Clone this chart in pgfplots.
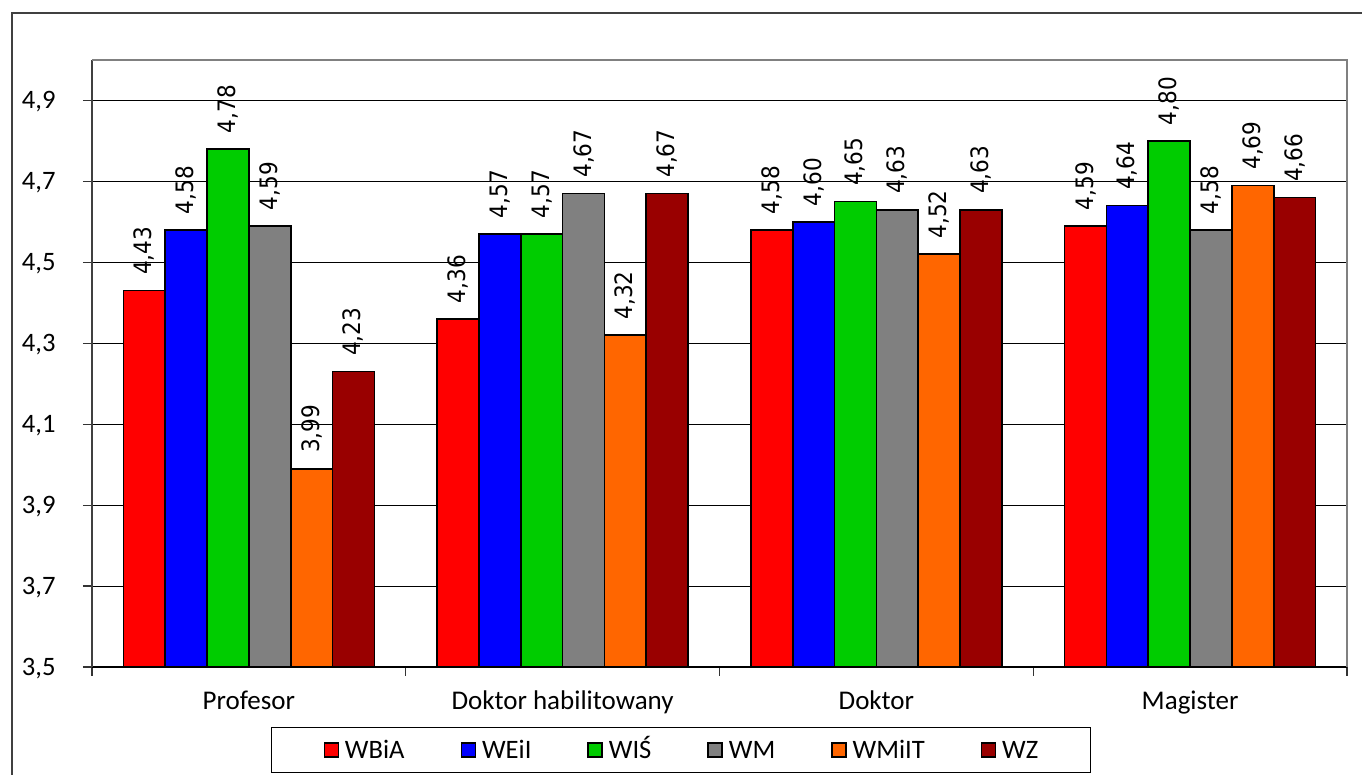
\documentclass[border=0pt]{standalone}
\usepackage{fontspec}
\setmainfont{Carlito}
\newfontfamily\labfont[FakeStretch=0.9]{DejaVu Sans}
\usepackage{pgfplots}
\pgfplotsset{compat=1.18}
\definecolor{cWBiA}{HTML}{FF0000}
\definecolor{cWEiI}{HTML}{0000FF}
\definecolor{cWIS}{HTML}{00CC00}
\definecolor{cWM}{HTML}{808080}
\definecolor{cWMiIT}{HTML}{FF6600}
\definecolor{cWZ}{HTML}{990000}
\begin{document}
\begin{tikzpicture}
\useasboundingbox (0,0) rectangle (681pt,387.5pt);
\draw[line width=0.75pt, color=black!75] (6pt,-20pt) -- (6pt,381pt) -- (720pt,381pt);
\begin{axis}[
  name=ax,
  at={(46pt,54pt)}, anchor=south west,
  width=627.5pt, height=303.5pt, scale only axis,
  xmin=-0.5, xmax=3.5, ymin=3.5, ymax=5.0,
  axis lines*=left,
  x axis line style={black, line width=0.8pt},
  y axis line style={black!75, line width=0.75pt},
  ybar, bar width=0.1333,
  ytick={3.5,3.7,3.9,4.1,4.3,4.5,4.7,4.9},
  ymajorgrids, grid style={black, line width=0.5pt},
  tick align=outside, major tick length=4.5pt,
  tick style={black!80, line width=0.6pt},
  yticklabel style={anchor=base east, inner sep=0pt, xshift=-13.5pt, yshift=-4.2pt,
    font=\fontsize{13.3}{15}\selectfont,
    /pgf/number format/.cd, fixed, fixed zerofill, precision=1, use comma, assume math mode=true},
  xtick={-0.5,0.5,1.5,2.5,3.5},
  xticklabels={,,,,},
  extra x ticks={0,1,2,3},
  extra x tick labels={Profesor, Doktor habilitowany, Doktor, Magister},
  extra x tick style={major tick length=0pt, xticklabel style={anchor=base, inner sep=0pt, yshift=-21.5pt, font=\fontsize{13.5}{15}\selectfont}},
  nodes near coords,
  every node near coord/.append style={rotate=90, anchor=west, inner xsep=7.5pt, inner ysep=0pt, black,
    font=\labfont\fontsize{12}{14}\selectfont,
    /pgf/number format/.cd, fixed, fixed zerofill, precision=2, use comma, assume math mode=true},
  legend columns=6,
  legend cell align=left,
  legend image code/.code={\draw[#1, line width=0.7pt] (0pt,-3.5pt) rectangle (7pt,3.5pt);},
  legend style={at={(0.4693,-0.0988)}, anchor=north, draw=black, line width=0.6pt,
    inner xsep=26pt, inner ysep=7pt, font=\fontsize{13.3}{15}\selectfont,
    nodes={inner sep=0pt, text height=8.6pt, text depth=0pt},
    /tikz/every odd column/.append style={column sep=3pt},
    /tikz/every even column/.append style={column sep=28pt}},
]
\addplot[fill=cWBiA, draw=black, line width=0.8pt, bar shift=-0.3333] coordinates {(0,4.43) (1,4.36) (2,4.58) (3,4.59)};
\addplot[fill=cWEiI, draw=black, line width=0.8pt, bar shift=-0.2] coordinates {(0,4.58) (1,4.57) (2,4.60) (3,4.64)};
\addplot[fill=cWIS, draw=black, line width=0.8pt, bar shift=-0.0667] coordinates {(0,4.78) (1,4.57) (2,4.65) (3,4.80)};
\addplot[fill=cWM, draw=black, line width=0.8pt, bar shift=0.0667] coordinates {(0,4.59) (1,4.67) (2,4.63) (3,4.58)};
\addplot[fill=cWMiIT, draw=black, line width=0.8pt, bar shift=0.2] coordinates {(0,3.99) (1,4.32) (2,4.52) (3,4.69)};
\addplot[fill=cWZ, draw=black, line width=0.8pt, bar shift=0.3333] coordinates {(0,4.23) (1,4.67) (2,4.63) (3,4.66)};
\legend{WBiA, WEiI, WIŚ, WM, WMiIT, WZ}
\end{axis}
\draw[color=black!50, line width=1pt] (ax.north west) -- (ax.north east) -- (ax.south east);
\end{tikzpicture}
\end{document}
